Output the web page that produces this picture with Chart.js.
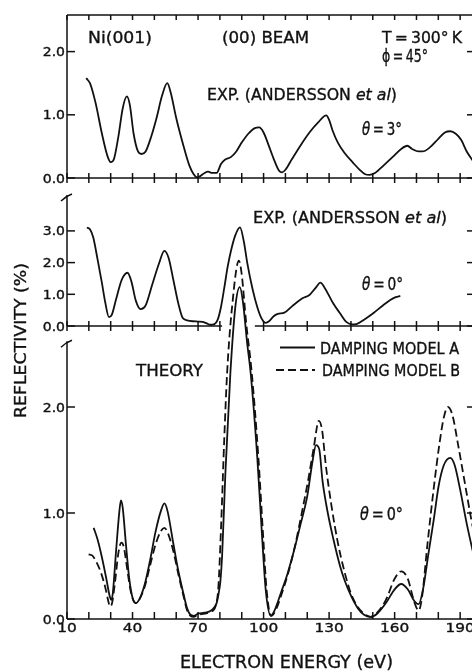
<!DOCTYPE html>
<html>
<head>
<meta charset="utf-8">
<script src="https://cdn.jsdelivr.net/npm/chart.js@4.4.0/dist/chart.umd.min.js"></script>
<style>
  html, body { margin: 0; padding: 0; background: #fff; overflow: hidden; }
  #wrap { width: 472px; height: 671px; overflow: hidden; }
  canvas { display: block; }
</style>
</head>
<body>
<div id="wrap"><canvas id="c" width="486" height="671"></canvas></div>
<script>
// values: energy in eV, reflectivity in %
// experiment, theta = 3 deg (top panel)
const expE3 = [18.8,20.5,23,26,28.5,30,31.5,33.5,35.5,37.4,38.8,40.5,42.5,44.1,46,48.5,51,53.5,55.9,57.5,60,63,66,68,69.6,71,73,74.6,76.5,78.5,80.5,82.3,85,87.5,90,93,96,98,100,102.5,105,107,108.5,110,113,117,121,125,128.7,130,131.5,134,137,141,144,146.5,148.5,151,155,159,163,165.8,168,171,172.8,176,180,183,185.5,188,190.5,193,196.5];
const expR3 = [1.58,1.50,1.20,0.70,0.35,0.25,0.30,0.65,1.10,1.29,1.15,0.70,0.42,0.38,0.42,0.65,0.95,1.30,1.50,1.35,0.95,0.55,0.20,0.06,0.01,0.03,0.08,0.10,0.08,0.08,0.22,0.29,0.33,0.42,0.56,0.70,0.79,0.80,0.72,0.50,0.27,0.12,0.09,0.13,0.30,0.52,0.72,0.88,0.99,0.92,0.76,0.56,0.40,0.24,0.13,0.06,0.05,0.08,0.20,0.33,0.46,0.51,0.46,0.42,0.42,0.48,0.62,0.72,0.74,0.70,0.60,0.42,0.24];

// experiment, theta = 0 deg (middle panel)
const expE0 = [19.1,20.5,22,24,26,27.5,29.2,30.5,32.5,35,37.7,39.5,41.5,43.7,46,49,52,54.6,56.5,58.7,61,63,65,67.5,70,72,74,75.6,77.5,79,80.5,82,83.5,85,87,89.2,91,92.5,95,97.1,99,101,102.5,104.5,106.5,109.5,113,118,121,124,126,128,130,132,135,138,140.5,142.5,146,150.5,154.5,158,160.5,162.6];
const expR0 = [3.11,3.05,2.80,2.10,1.35,0.75,0.28,0.35,0.85,1.45,1.68,1.40,0.80,0.53,0.65,1.30,1.95,2.37,2.15,1.45,0.70,0.25,0.18,0.15,0.14,0.13,0.08,0.04,0.06,0.20,0.60,1.20,1.85,2.35,2.85,3.11,2.65,2.00,1.15,0.60,0.25,0.10,0.15,0.30,0.38,0.42,0.62,0.88,0.98,1.22,1.37,1.20,0.95,0.70,0.40,0.12,0.05,0.06,0.20,0.42,0.64,0.82,0.91,0.95];

// theory, damping model A (solid)
const thEA = [22.2,24,26,28,29.5,30.3,31,32.5,34,34.7,35.5,37,38.5,40,41.5,43,45.5,48,50.5,53,54.6,56,58.7,61,63.3,65,66.5,68,70,73,76,78.5,79.5,80.2,81,82.5,84.8,87.1,89.1,90.5,92.5,94.1,97.1,99.4,101,103.3,105,108,111,114,117,120,122.5,124,125.5,127,129.4,132,135,137,140,143.2,146,149,152,156,160,163,166,169,171,173,175.5,178,180.1,182.5,185.5,187.5,190,193,196,199];
const thRA = [0.86,0.75,0.58,0.38,0.22,0.18,0.25,0.65,1.02,1.12,1.05,0.70,0.38,0.20,0.15,0.18,0.32,0.55,0.82,1.02,1.09,1.02,0.71,0.45,0.24,0.10,0.04,0.03,0.05,0.06,0.08,0.15,0.25,0.35,0.59,1.37,2.32,2.95,3.13,3.0,2.60,2.32,1.53,0.75,0.27,0.03,0.08,0.25,0.43,0.65,0.90,1.16,1.50,1.64,1.60,1.30,1.00,0.75,0.50,0.37,0.22,0.10,0.04,0.02,0.05,0.15,0.28,0.33,0.28,0.17,0.14,0.28,0.62,0.95,1.25,1.45,1.52,1.45,1.22,0.90,0.62,0.35];

// theory, damping model B (dashed)
const thEB = [19.9,21.5,23.4,25.5,27.5,29,29.6,30.5,32,33.5,34.9,36,37.5,39,40.5,41.5,43,45.5,48,50.5,53,54.6,56,58.7,61,63.3,65,66.5,68,70,73,76,78,79.3,80.5,82,83.3,85.6,88.7,90,92,94.6,97.6,99.9,101.4,103.5,105.5,108.5,111.5,114.5,117.5,120.5,123,125.3,126.8,128.5,131,134,137,140,143.2,146,149,152,156,160,163,166,169,171,172.5,175,178,180.5,182.5,184.4,186.5,189,192,195,199];
const thRB = [0.61,0.60,0.54,0.44,0.30,0.16,0.12,0.14,0.35,0.62,0.72,0.68,0.48,0.28,0.17,0.15,0.18,0.30,0.50,0.70,0.83,0.86,0.82,0.64,0.42,0.22,0.08,0.03,0.02,0.04,0.05,0.07,0.12,0.30,0.85,1.70,2.32,2.95,3.38,3.25,2.80,2.32,1.53,0.75,0.27,0.03,0.08,0.25,0.45,0.70,1.00,1.32,1.62,1.87,1.78,1.45,1.08,0.72,0.45,0.24,0.11,0.05,0.02,0.06,0.18,0.38,0.45,0.38,0.16,0.08,0.20,0.70,1.25,1.65,1.90,2.00,1.92,1.65,1.30,0.95,0.55];

// ticks
const xMinorTicks = [10,20,30,40,50,60,70,80,90,100,110,120,130,140,150,160,170,180,190,200];
const xTickLabels = [10,40,70,100,130,160,190];
const yTicksTop = [0, 1, 2];
const yTicksMid = [0, 1, 2, 3];
const yTicksBot = [0, 1, 2];

// layout of the stacked panels (pixel row of the zero line and size of one unit)
const area = { left: 67, top: 15, right: 482, bottom: 619 };
const INK = '#111';
const FONT = '"DejaVu Sans", sans-serif';
const TS = '\u2009'; // thin space

function panelRange(zeroPx, unitPx) {
  return { min: -(area.bottom - zeroPx) / unitPx, max: (zeroPx - area.top) / unitPx };
}
const rTop = panelRange(178, 63.2);
const rMid = panelRange(326, 31.7);
const rBot = panelRange(619, 106);

const panels = [
  { id: 'yTop', ticks: yTicksTop, axisTop: rTop.max, cross: true, gap: null },
  { id: 'yMid', ticks: yTicksMid, axisTop: 4.13, cross: true, gap: [81, 96] },
  { id: 'yBot', ticks: yTicksBot, axisTop: 2.62, cross: false, gap: null }
];

function pts(xs, ys) {
  return xs.map((x, i) => ({ x: x, y: ys[i] }));
}

// text squeezed or stretched to the width it has in the figure
function fitText(ctx, parts, x, base, size, opt) {
  opt = opt || {};
  const widths = parts.map(p => {
    ctx.font = (p.it ? 'italic ' : '') + size + 'px ' + FONT;
    return ctx.measureText(p.t).width;
  });
  const total = widths.reduce((a, b) => a + b, 0);
  const sx = opt.width ? opt.width / total : (opt.sx || 1);
  const w = total * sx;
  let x0 = x;
  if (opt.align === 'center') x0 = x - w / 2;
  if (opt.align === 'right') x0 = x - w;
  ctx.save();
  ctx.translate(x0, base);
  ctx.scale(sx, 1);
  ctx.fillStyle = INK;
  ctx.strokeStyle = INK;
  ctx.lineWidth = 0.35;
  ctx.textBaseline = 'alphabetic';
  ctx.textAlign = 'left';
  let cx = 0;
  parts.forEach((p, i) => {
    ctx.font = (p.it ? 'italic ' : '') + size + 'px ' + FONT;
    ctx.fillText(p.t, cx, 0);
    ctx.strokeText(p.t, cx, 0);
    cx += widths[i];
  });
  ctx.restore();
}

const framePlugin = {
  id: 'frame',
  beforeDatasetsDraw(chart) {
    const { ctx, chartArea: a, scales } = chart;
    const xs = scales.x;
    const seg = (x1, y1, x2, y2) => { ctx.beginPath(); ctx.moveTo(x1, y1); ctx.lineTo(x2, y2); ctx.stroke(); };
    ctx.save();
    ctx.strokeStyle = INK;
    ctx.lineWidth = 1.5;

    // top border with ticks
    seg(a.left, a.top, a.right, a.top);
    xMinorTicks.forEach(e => { const px = xs.getPixelForValue(e); seg(px, a.top, px, a.top + 5); });

    panels.forEach(p => {
      const ys = scales[p.id];
      const y0 = ys.getPixelForValue(0);
      const yT = ys.getPixelForValue(p.axisTop);
      seg(a.left, yT, a.left, y0);
      seg(a.right, yT, a.right, y0);
      // break marks at the top of the lower panels
      if (p.id !== 'yTop') {
        ctx.beginPath();
        ctx.moveTo(a.left - 6, yT + 6);
        ctx.quadraticCurveTo(a.left - 1, yT + 1, a.left + 5, yT - 1);
        ctx.stroke();
      }
      // x axis line of the panel
      if (p.gap) {
        seg(a.left, y0, xs.getPixelForValue(p.gap[0]), y0);
        seg(xs.getPixelForValue(p.gap[1]), y0, a.right, y0);
      } else {
        seg(a.left, y0, a.right, y0);
      }
      xMinorTicks.forEach(e => {
        if (p.gap && e > p.gap[0] && e < p.gap[1]) return;
        const px = xs.getPixelForValue(e);
        if (p.cross) seg(px, y0 - 5, px, y0 + 5);
        else seg(px, y0 - 7, px, y0);
      });
      // y ticks and labels
      p.ticks.forEach(v => {
        const py = ys.getPixelForValue(v);
        seg(a.left, py, a.left + 8, py);
        seg(a.right - 15, py, a.right, py);
        fitText(ctx, [{ t: v.toFixed(1) }], a.left - 2, py + 4.5, 12.5, { sx: 1.12, align: 'right' });
      });
    });

    // x tick labels
    xTickLabels.forEach(e => {
      fitText(ctx, [{ t: String(e) }], xs.getPixelForValue(e), 632, 13, { sx: 1.18, align: 'center' });
    });
    ctx.restore();
  },
  afterDraw(chart) {
    const ctx = chart.ctx;
    const etal = (x, base, w) => fitText(ctx, [{ t: 'EXP. (ANDERSSON ' }, { t: 'et al', it: true }, { t: ')' }], x, base, 16, { width: w });
    const theta = (deg, x, base, w) => fitText(ctx, [{ t: 'θ', it: true }, { t: TS + '=' + TS + deg + '°' }], x, base, 17, { width: w });

    fitText(ctx, [{ t: 'Ni(001)' }], 88, 43, 16, { width: 64 });
    fitText(ctx, [{ t: '(00) BEAM' }], 222, 43, 16, { width: 87 });
    fitText(ctx, [{ t: 'T' + TS + '=' + TS + '300°' + TS + 'K' }], 382, 43, 16.5, { width: 80 });
    fitText(ctx, [{ t: 'ϕ' }, { t: TS + '=' + TS + '45°' }], 382, 62, 17, { width: 46 });
    etal(207, 100, 190);
    theta(3, 362, 135, 40);

    etal(253, 223, 194);
    theta(0, 362, 290, 41);

    // legend for the theory curves
    const ds = chart.data.datasets;
    const leg = [{ d: ds[2], x1: 280, y: 347.5, tx: 320, base: 354, w: 139 },
                 { d: ds[3], x1: 276, y: 370, tx: 322, base: 376, w: 138 }];
    leg.forEach(l => {
      ctx.save();
      ctx.strokeStyle = INK;
      ctx.lineWidth = l.d.borderWidth;
      ctx.setLineDash(l.d.borderDash || []);
      ctx.beginPath(); ctx.moveTo(l.x1, l.y); ctx.lineTo(315, l.y); ctx.stroke();
      ctx.restore();
      fitText(ctx, [{ t: l.d.label }], l.tx, l.base, 16, { width: l.w });
    });
    fitText(ctx, [{ t: 'THEORY' }], 136, 376, 16, { width: 67 });
    theta(0, 360, 520, 43);

    // axis titles
    fitText(ctx, [{ t: 'ELECTRON ENERGY (eV)' }], 180, 668, 18, { width: 213 });
    ctx.save();
    ctx.translate(26, 340.5);
    ctx.rotate(-Math.PI / 2);
    fitText(ctx, [{ t: 'REFLECTIVITY (%)' }], 0, 0, 15, { width: 155, align: 'center' });
    ctx.restore();
  }
};

const lineStyle = { borderColor: INK, borderWidth: 1.8, pointRadius: 0, fill: false, cubicInterpolationMode: 'monotone' };

new Chart(document.getElementById('c'), {
  type: 'line',
  data: {
    datasets: [
      Object.assign({ label: 'EXP. theta=3', data: pts(expE3, expR3), yAxisID: 'yTop' }, lineStyle),
      Object.assign({ label: 'EXP. theta=0', data: pts(expE0, expR0), yAxisID: 'yMid' }, lineStyle),
      Object.assign({ label: 'DAMPING MODEL A', data: pts(thEA, thRA), yAxisID: 'yBot' }, lineStyle),
      Object.assign({ label: 'DAMPING MODEL B', data: pts(thEB, thRB), yAxisID: 'yBot', borderDash: [8, 4] }, lineStyle)
    ]
  },
  options: {
    responsive: false,
    animation: false,
    devicePixelRatio: 1,
    layout: { padding: { left: area.left, top: area.top, right: 486 - area.right, bottom: 671 - area.bottom } },
    scales: {
      x: { type: 'linear', min: 10, max: 200, display: false },
      yTop: { type: 'linear', min: rTop.min, max: rTop.max, display: false },
      yMid: { type: 'linear', min: rMid.min, max: rMid.max, display: false },
      yBot: { type: 'linear', min: rBot.min, max: rBot.max, display: false }
    },
    plugins: { legend: { display: false }, tooltip: { enabled: false } }
  },
  plugins: [framePlugin]
});
</script>
</body>
</html>
